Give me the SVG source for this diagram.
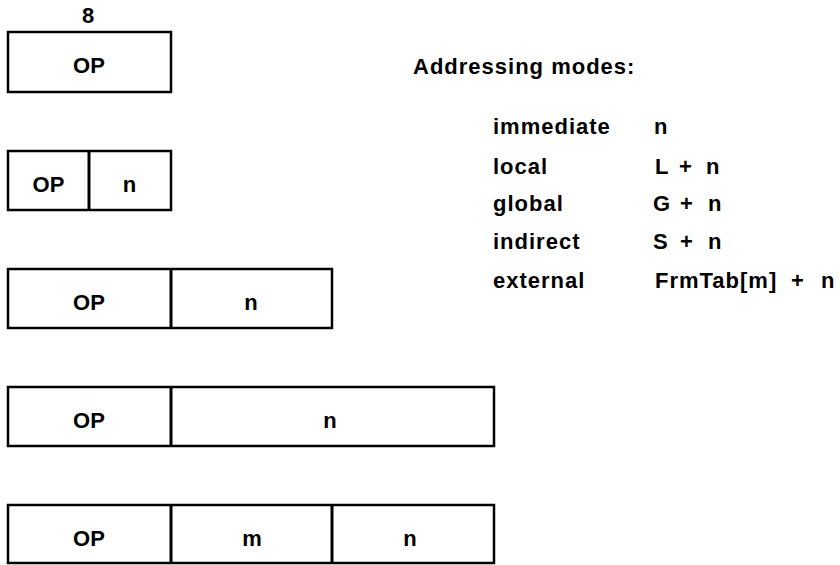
<svg xmlns="http://www.w3.org/2000/svg" width="840" height="565" viewBox="0 0 840 565">
<style>
  .box { fill: #ffffff; stroke: #000000; stroke-width: 2.5; }
  .div { stroke: #000000; stroke-width: 3; }
  text { font-family: "Liberation Sans", Arial, Helvetica, sans-serif; font-weight: bold; font-size: 22px; fill: #000000; letter-spacing: 1px; }
  .c { text-anchor: middle; letter-spacing: 0px; }
</style>
<rect x="0" y="0" width="840" height="565" fill="#ffffff"/>
<g id="connectors"></g>

<g id="fmt1">
  <text class="c" x="88" y="23">8</text>
  <rect class="box" x="8" y="32" width="163" height="60"/>
  <text class="c" x="89" y="73">OP</text>
</g>

<g id="fmt2">
  <rect class="box" x="8" y="151" width="163" height="59"/>
  <line class="div" x1="89" y1="151" x2="89" y2="210"/>
  <text class="c" x="48.5" y="192">OP</text>
  <text class="c" x="129.5" y="192">n</text>
</g>

<g id="fmt3">
  <rect class="box" x="8" y="269" width="324" height="59"/>
  <line class="div" x1="171" y1="269" x2="171" y2="328"/>
  <text class="c" x="89" y="310">OP</text>
  <text class="c" x="251" y="310">n</text>
</g>

<g id="fmt4">
  <rect class="box" x="8" y="387" width="486" height="59"/>
  <line class="div" x1="171" y1="387" x2="171" y2="446"/>
  <text class="c" x="89" y="428">OP</text>
  <text class="c" x="330" y="428">n</text>
</g>

<g id="fmt5">
  <rect class="box" x="8" y="505" width="486" height="58"/>
  <line class="div" x1="171" y1="505" x2="171" y2="563"/>
  <line class="div" x1="332" y1="505" x2="332" y2="563"/>
  <text class="c" x="89" y="546">OP</text>
  <text class="c" x="252" y="546">m</text>
  <text class="c" x="410" y="546">n</text>
</g>

<g id="modes">
  <text x="413" y="74">Addressing modes:</text>
  <text x="493" y="134">immediate</text>
  <text x="654" y="134">n</text>
  <text x="493" y="174">local</text>
  <text x="655" y="174">L<tspan x="679">+</tspan><tspan x="706">n</tspan></text>
  <text x="493" y="211">global</text>
  <text x="653" y="211">G<tspan x="680">+</tspan><tspan x="708">n</tspan></text>
  <text x="493" y="249">indirect</text>
  <text x="653" y="249">S<tspan x="680">+</tspan><tspan x="708">n</tspan></text>
  <text x="493" y="288">external</text>
  <text x="655" y="288">FrmTab[m]<tspan x="791">+</tspan><tspan x="821">n</tspan></text>
</g>
</svg>
